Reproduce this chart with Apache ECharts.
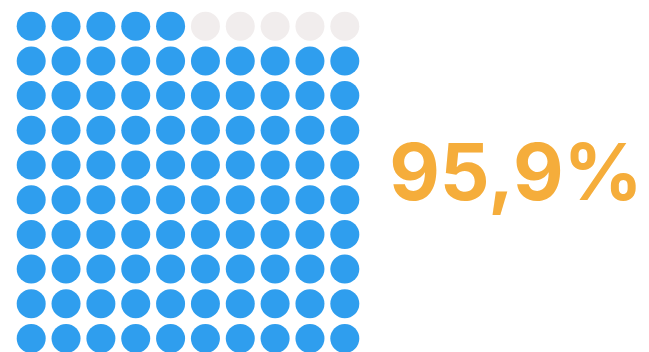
<!DOCTYPE html>
<html>
<head>
<meta charset="utf-8">
<script src="https://cdn.jsdelivr.net/npm/echarts@6/dist/echarts.min.js"></script>
<style>html,body{margin:0;padding:0;background:#fff}#c{width:649px;height:352px}</style>
</head>
<body>
<div id="c"></div>
<script>
var percentLabel = '95,9%';
var percentValue = 95.9;
var filledCells = 95;
var gridCols = 10;
var gridRows = 10;

var filled = [], empty = [];
for (var k = 0; k < gridCols * gridRows; k++) {
  var col = k % gridCols;
  var rowFromBottom = Math.floor(k / gridCols);
  var row = gridRows - 1 - rowFromBottom;
  (k < filledCells ? filled : empty).push([col, row]);
}

var chart = echarts.init(document.getElementById('c'), null, {renderer: 'canvas'});
chart.setOption({
  animation: false,
  backgroundColor: '#ffffff',
  grid: {left: 31.2, top: 26.2, width: 313.6, height: 312.3, containLabel: false},
  xAxis: {type: 'value', min: 0, max: gridCols - 1, show: false},
  yAxis: {type: 'value', min: 0, max: gridRows - 1, inverse: true, show: false},
  series: [
    {type: 'scatter', data: filled, symbolSize: 29, itemStyle: {color: '#2F9EEE', opacity: 1}, silent: true},
    {type: 'scatter', data: empty, symbolSize: 29, itemStyle: {color: '#F1EDED', opacity: 1}, silent: true}
  ],
  graphic: [{
    type: 'text', x: 516, y: 177,
    style: {text: percentLabel, fill: '#F5AD3B', fontFamily: 'Inter', fontWeight: 700, fontStyle: 'normal', fontSize: 78, align: 'center', verticalAlign: 'middle'}
  }]
});
</script>
</body>
</html>
